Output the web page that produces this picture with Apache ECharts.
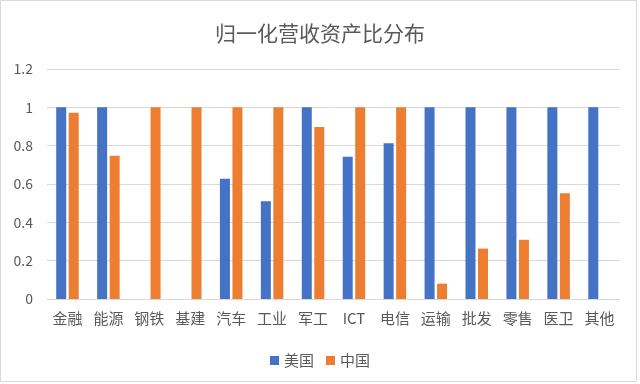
<!DOCTYPE html>
<html>
<head>
<meta charset="utf-8">
<script src="https://cdn.jsdelivr.net/npm/echarts@6/dist/echarts.min.js"></script>
<style>html,body{margin:0;padding:0;background:#fff;}#c{width:640px;height:384px;}</style>
</head>
<body>
<div id="c"></div>
<script>
const title = '归一化营收资产比分布';
const categories = ['金融','能源','钢铁','基建','汽车','工业','军工','ICT','电信','运输','批发','零售','医卫','其他'];
const usValues = [1, 1, 0, 0, 0.627, 0.51, 1, 0.742, 0.813, 1, 1, 1, 1, 1];
const cnValues = [0.972, 0.748, 1, 1, 1, 1, 0.897, 1, 1, 0.08, 0.263, 0.309, 0.552, 0];
const seriesNames = ['美国', '中国'];
const yTicks = {min: 0, max: 1.2, interval: 0.2};

const font = '"Noto Sans CJK SC", "Noto Sans", sans-serif';
const chart = echarts.init(document.getElementById('c'), null, {renderer: 'canvas'});
chart.setOption({
  animation: false,
  backgroundColor: '#fff',
  title: {
    text: title, left: 'center', top: 18,
    textStyle: {fontFamily: font, fontSize: 21, fontWeight: 'normal', color: '#595959'}
  },
  legend: {
    data: seriesNames, left: 'center', top: 348,
    itemWidth: 9, itemHeight: 9, itemGap: 12,
    icon: 'rect',
    textStyle: {fontFamily: font, fontSize: 15, color: '#595959'}
  },
  grid: {left: 47, right: 20, top: 69, bottom: 85, containLabel: false},
  xAxis: {
    type: 'category', data: categories,
    axisLine: {lineStyle: {color: '#D9D9D9', width: 1}},
    axisTick: {show: false},
    axisLabel: {fontFamily: font, fontSize: 15, color: '#595959', margin: 12, interval: 0}
  },
  yAxis: {
    type: 'value', min: yTicks.min, max: yTicks.max, interval: yTicks.interval,
    axisLine: {show: false}, axisTick: {show: false},
    splitLine: {lineStyle: {color: '#D9D9D9', width: 1}},
    axisLabel: {fontFamily: font, fontSize: 14, color: '#595959', margin: 14,
      formatter: v => String(+v.toFixed(1))}
  },
  series: [
    {name: seriesNames[0], type: 'bar', data: usValues, barWidth: 10, barGap: '25%',
     itemStyle: {color: '#4472C4'}},
    {name: seriesNames[1], type: 'bar', data: cnValues, barWidth: 10, barGap: '25%',
     itemStyle: {color: '#ED7D31'}}
  ],
  graphic: [{
    type: 'rect', shape: {x: 0.5, y: 0.5, width: 636, height: 381},
    style: {fill: null, stroke: '#D9D9D9', lineWidth: 1}, silent: true
  }]
});
</script>
</body>
</html>
